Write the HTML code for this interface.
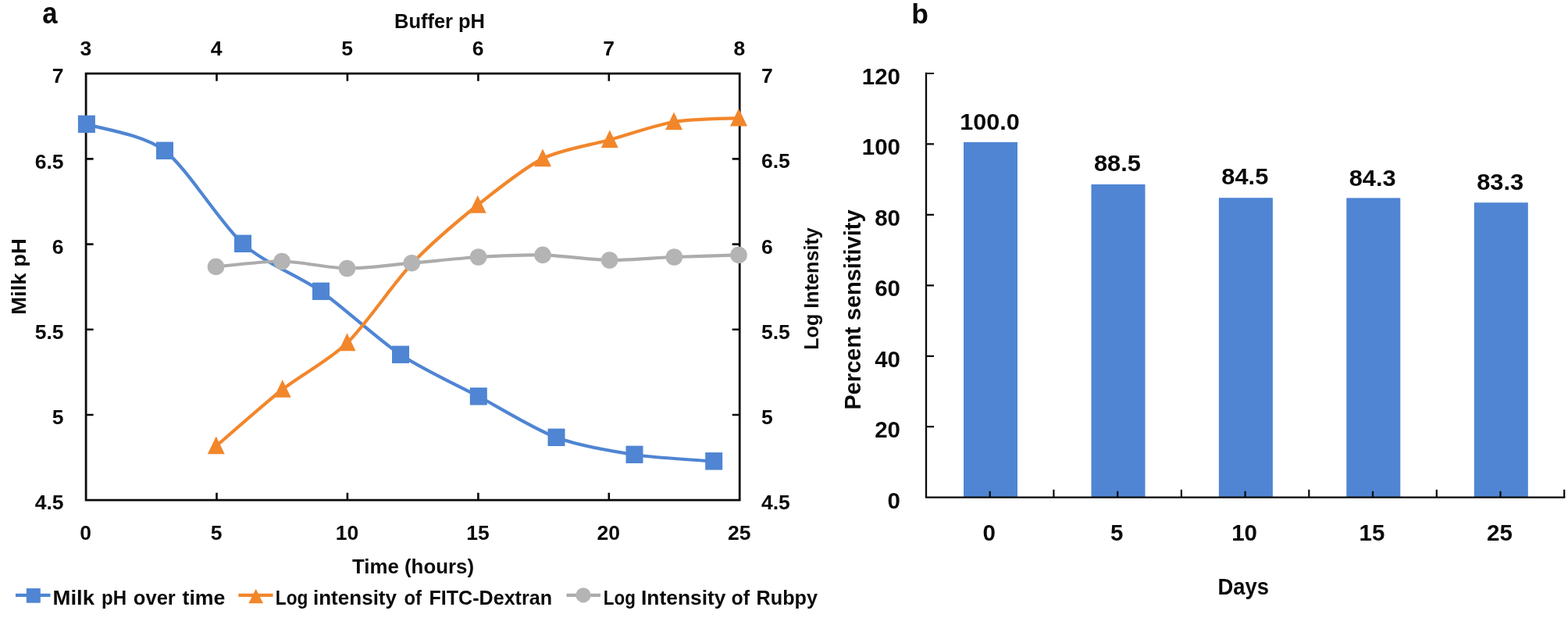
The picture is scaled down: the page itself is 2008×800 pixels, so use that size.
<!DOCTYPE html>
<html lang="en">
<head>
<meta charset="utf-8">
<title>Figure: milk pH, log intensity and percent sensitivity</title>
<style>
html,body{margin:0;padding:0;background:#fff;}
body{width:2008px;height:800px;overflow:hidden;}
svg{display:block;}
text{font-family:"Liberation Sans",Arial,sans-serif;}
</style>
</head>
<body>
<svg xmlns="http://www.w3.org/2000/svg" width="2008" height="800" viewBox="0 0 2008 800">
<g fill="none" stroke="#0a0a0a" stroke-width="2.8" stroke-linecap="square">
<path d="M110.1 94.2 H947.2 V640.2 H110.1 Z"/>
<path d="M277.5 94.2 v9.5 M277.5 640.2 v-9.5 M444.9 94.2 v9.5 M444.9 640.2 v-9.5 M612.4 94.2 v9.5 M612.4 640.2 v-9.5 M779.8 94.2 v9.5 M779.8 640.2 v-9.5 M110.1 203.4 h9.5 M947.2 203.4 h-9.5 M110.1 312.6 h9.5 M947.2 312.6 h-9.5 M110.1 421.8 h9.5 M947.2 421.8 h-9.5 M110.1 531.0 h9.5 M947.2 531.0 h-9.5" stroke-width="2.6" stroke-linecap="butt"/>
</g>
<path d="M110.9 159.0 C124.9 163.8 183.0 171.6 211.0 193.0 C239.0 214.4 283.0 286.8 311.0 312.0 C339.0 337.2 382.7 353.1 411.0 373.0 C439.3 392.9 484.7 435.2 513.0 454.0 C541.3 472.8 584.9 492.7 612.8 507.5 C640.7 522.3 684.5 549.6 712.5 560.0 C740.5 570.4 784.3 577.7 812.5 582.0 C840.7 586.3 900.0 589.3 914.2 590.5" fill="none" stroke="#4F85D3" stroke-width="4.2" stroke-linejoin="round"/>
<rect x="99.9" y="147.6" width="22" height="22.4" fill="#4F85D3"/>
<rect x="200.0" y="181.6" width="22" height="22.4" fill="#4F85D3"/>
<rect x="300.0" y="300.6" width="22" height="22.4" fill="#4F85D3"/>
<rect x="400.0" y="361.6" width="22" height="22.4" fill="#4F85D3"/>
<rect x="502.0" y="442.6" width="22" height="22.4" fill="#4F85D3"/>
<rect x="601.8" y="496.1" width="22" height="22.4" fill="#4F85D3"/>
<rect x="701.5" y="548.6" width="22" height="22.4" fill="#4F85D3"/>
<rect x="801.5" y="570.6" width="22" height="22.4" fill="#4F85D3"/>
<rect x="903.2" y="579.1" width="22" height="22.4" fill="#4F85D3"/>
<path d="M276.8 571.0 C288.7 560.9 338.2 517.0 361.7 498.5 C385.2 480.0 421.3 461.5 444.5 439.0 C467.7 416.5 504.1 362.2 527.5 337.5 C550.9 312.8 588.2 281.3 611.7 262.5 C635.2 243.7 671.3 214.7 695.0 203.0 C718.7 191.3 757.3 185.6 780.8 179.0 C804.3 172.4 839.9 159.9 863.0 156.0 C886.1 152.1 934.4 151.9 946.0 151.2" fill="none" stroke="#F2862B" stroke-width="4.2" stroke-linejoin="round"/>
<path d="M276.8 558.6 l11 22.6 h-22 z" fill="#F2862B"/>
<path d="M361.7 486.1 l11 22.6 h-22 z" fill="#F2862B"/>
<path d="M444.5 426.6 l11 22.6 h-22 z" fill="#F2862B"/>
<path d="M611.7 250.1 l11 22.6 h-22 z" fill="#F2862B"/>
<path d="M695.0 190.6 l11 22.6 h-22 z" fill="#F2862B"/>
<path d="M780.8 166.6 l11 22.6 h-22 z" fill="#F2862B"/>
<path d="M863.0 143.6 l11 22.6 h-22 z" fill="#F2862B"/>
<path d="M946.0 138.8 l11 22.6 h-22 z" fill="#F2862B"/>
<path d="M276.5 341.4 C288.3 340.4 337.5 334.2 361.0 334.5 C384.5 334.8 421.2 343.2 444.5 343.5 C467.8 343.8 503.8 338.7 527.3 336.7 C550.8 334.7 589.1 330.4 612.6 329.0 C636.1 327.6 671.5 325.8 695.0 326.4 C718.5 327.0 757.0 332.6 780.6 333.0 C804.2 333.4 840.2 329.9 863.4 329.0 C886.6 328.1 934.4 326.8 946.0 326.4" fill="none" stroke="#ACACAC" stroke-width="4.2" stroke-linejoin="round"/>
<circle cx="276.5" cy="341.4" r="10.8" fill="#B4B4B4"/>
<circle cx="361.0" cy="334.5" r="10.8" fill="#B4B4B4"/>
<circle cx="444.5" cy="343.5" r="10.8" fill="#B4B4B4"/>
<circle cx="527.3" cy="336.7" r="10.8" fill="#B4B4B4"/>
<circle cx="612.6" cy="329.0" r="10.8" fill="#B4B4B4"/>
<circle cx="695.0" cy="326.4" r="10.8" fill="#B4B4B4"/>
<circle cx="780.6" cy="333.0" r="10.8" fill="#B4B4B4"/>
<circle cx="863.4" cy="329.0" r="10.8" fill="#B4B4B4"/>
<circle cx="946.0" cy="326.4" r="10.8" fill="#B4B4B4"/>
<g font-family='"Liberation Sans", Arial, sans-serif' fill="#0a0a0a">
<text x="54.3" y="29.7" font-size="38.5" text-anchor="start" font-weight="bold" textLength="19.3" lengthAdjust="spacingAndGlyphs">a</text>
<text x="1167.3" y="29.5" font-size="35.5" text-anchor="start" font-weight="bold">b</text>
<text x="563.0" y="36.2" font-size="26.5" text-anchor="middle" font-weight="bold" textLength="116.0" lengthAdjust="spacingAndGlyphs">Buffer pH</text>
<text x="109.8" y="70.6" font-size="26.5" text-anchor="middle" font-weight="bold">3</text>
<text x="277.2" y="70.6" font-size="26.5" text-anchor="middle" font-weight="bold">4</text>
<text x="444.6" y="70.6" font-size="26.5" text-anchor="middle" font-weight="bold">5</text>
<text x="612.1" y="70.6" font-size="26.5" text-anchor="middle" font-weight="bold">6</text>
<text x="779.5" y="70.6" font-size="26.5" text-anchor="middle" font-weight="bold">7</text>
<text x="946.9" y="70.6" font-size="26.5" text-anchor="middle" font-weight="bold">8</text>
<text x="109.6" y="690.8" font-size="26.5" text-anchor="middle" font-weight="bold">0</text>
<text x="277.0" y="690.8" font-size="26.5" text-anchor="middle" font-weight="bold">5</text>
<text x="444.4" y="690.8" font-size="26.5" text-anchor="middle" font-weight="bold">10</text>
<text x="611.9" y="690.8" font-size="26.5" text-anchor="middle" font-weight="bold">15</text>
<text x="779.3" y="690.8" font-size="26.5" text-anchor="middle" font-weight="bold">20</text>
<text x="946.7" y="690.8" font-size="26.5" text-anchor="middle" font-weight="bold">25</text>
<text x="81.5" y="106.3" font-size="26.5" text-anchor="end" font-weight="bold">7</text>
<text x="975.0" y="106.2" font-size="26.5" text-anchor="start" font-weight="bold">7</text>
<text x="81.5" y="215.5" font-size="26.5" text-anchor="end" font-weight="bold">6.5</text>
<text x="975.0" y="215.4" font-size="26.5" text-anchor="start" font-weight="bold">6.5</text>
<text x="81.5" y="324.7" font-size="26.5" text-anchor="end" font-weight="bold">6</text>
<text x="975.0" y="324.6" font-size="26.5" text-anchor="start" font-weight="bold">6</text>
<text x="81.5" y="433.9" font-size="26.5" text-anchor="end" font-weight="bold">5.5</text>
<text x="975.0" y="433.8" font-size="26.5" text-anchor="start" font-weight="bold">5.5</text>
<text x="81.5" y="543.1" font-size="26.5" text-anchor="end" font-weight="bold">5</text>
<text x="975.0" y="543.0" font-size="26.5" text-anchor="start" font-weight="bold">5</text>
<text x="81.5" y="652.3" font-size="26.5" text-anchor="end" font-weight="bold">4.5</text>
<text x="975.0" y="652.2" font-size="26.5" text-anchor="start" font-weight="bold">4.5</text>
<text x="529.0" y="733.5" font-size="26.5" text-anchor="middle" font-weight="bold" textLength="156.0" lengthAdjust="spacingAndGlyphs">Time (hours)</text>
<text x="32.6" y="354.0" font-size="26.5" text-anchor="middle" font-weight="bold" textLength="97.5" lengthAdjust="spacingAndGlyphs" transform="rotate(-90 32.6 354.0)">Milk pH</text>
<text x="1048.0" y="369.5" font-size="26.5" text-anchor="middle" font-weight="bold" textLength="156.5" lengthAdjust="spacingAndGlyphs" transform="rotate(-90 1048.0 369.5)">Log Intensity</text>
<text y="773.6" font-size="26.5" font-weight="bold" text-anchor="start"><tspan x="67.5" textLength="53.5" lengthAdjust="spacingAndGlyphs">Milk</tspan> <tspan x="130.0" textLength="32.0" lengthAdjust="spacingAndGlyphs">pH</tspan> <tspan x="170.8" textLength="54.0" lengthAdjust="spacingAndGlyphs">over</tspan> <tspan x="233.5" textLength="55.0" lengthAdjust="spacingAndGlyphs">time</tspan></text>
<text y="773.6" font-size="26.5" font-weight="bold" text-anchor="start"><tspan x="352.8" textLength="41.5" lengthAdjust="spacingAndGlyphs">Log</tspan> <tspan x="401.0" textLength="107.0" lengthAdjust="spacingAndGlyphs">intensity</tspan> <tspan x="517.5" textLength="22.5" lengthAdjust="spacingAndGlyphs">of</tspan> <tspan x="549.5" textLength="157.5" lengthAdjust="spacingAndGlyphs">FITC-Dextran</tspan></text>
<text y="773.6" font-size="26.5" font-weight="bold" text-anchor="start"><tspan x="772.8" textLength="41.0" lengthAdjust="spacingAndGlyphs">Log</tspan> <tspan x="821.0" textLength="108.5" lengthAdjust="spacingAndGlyphs">Intensity</tspan> <tspan x="936.5" textLength="23.5" lengthAdjust="spacingAndGlyphs">of</tspan> <tspan x="968.5" textLength="78.5" lengthAdjust="spacingAndGlyphs">Rubpy</tspan></text>
</g>
<path d="M20 761.8 H64.5" stroke="#4F85D3" stroke-width="4.2"/>
<rect x="33.8" y="753.1" width="18" height="18.6" fill="#4F85D3"/>
<path d="M305.4 761.8 H349.5" stroke="#F2862B" stroke-width="4.2"/>
<path d="M327.7 753.8 l9.3 18.5 h-18.6 z" fill="#F2862B"/>
<path d="M725.5 761.8 H769" stroke="#ACACAC" stroke-width="4.2"/>
<circle cx="747" cy="761.8" r="9.6" fill="#B4B4B4"/>
<rect x="1234.0" y="182.0" width="69" height="454.7" fill="#4F85D3"/>
<rect x="1397.5" y="236.0" width="69" height="400.7" fill="#4F85D3"/>
<rect x="1560.9" y="253.2" width="69" height="383.5" fill="#4F85D3"/>
<rect x="1724.3" y="253.4" width="69" height="383.3" fill="#4F85D3"/>
<rect x="1887.8" y="259.3" width="69" height="377.4" fill="#4F85D3"/>
<g fill="none" stroke="#0a0a0a" stroke-width="2.3" stroke-linecap="square">
<path d="M1186.0 94.0 V636.7 H2003.2"/>
<path d="M1186.0 94.0 h10 M1186.0 184.4 h10 M1186.0 274.9 h10 M1186.0 365.4 h10 M1186.0 455.8 h10 M1186.0 546.2 h10 M1267.7 636.7 v-8 M1349.4 636.7 v-10 M1431.2 636.7 v-8 M1512.9 636.7 v-10 M1594.6 636.7 v-8 M1676.3 636.7 v-10 M1758.0 636.7 v-8 M1839.8 636.7 v-10 M1921.5 636.7 v-8 M2003.2 636.7 v-10" stroke-width="2.2" stroke-linecap="butt"/>
</g>
<g font-family='"Liberation Sans", Arial, sans-serif' fill="#0a0a0a">
<text x="1153.0" y="108.0" font-size="29.5" text-anchor="end" font-weight="bold">120</text>
<text x="1153.0" y="198.4" font-size="29.5" text-anchor="end" font-weight="bold">100</text>
<text x="1153.0" y="288.9" font-size="29.5" text-anchor="end" font-weight="bold">80</text>
<text x="1153.0" y="379.4" font-size="29.5" text-anchor="end" font-weight="bold">60</text>
<text x="1153.0" y="469.8" font-size="29.5" text-anchor="end" font-weight="bold">40</text>
<text x="1153.0" y="560.2" font-size="29.5" text-anchor="end" font-weight="bold">20</text>
<text x="1153.0" y="650.7" font-size="29.5" text-anchor="end" font-weight="bold">0</text>
<text x="1267.4" y="166.3" font-size="30" text-anchor="middle" font-weight="bold" textLength="76.5" lengthAdjust="spacingAndGlyphs">100.0</text>
<text x="1266.7" y="692.0" font-size="29.5" text-anchor="middle" font-weight="bold">0</text>
<text x="1430.9" y="218.8" font-size="30" text-anchor="middle" font-weight="bold" textLength="60.0" lengthAdjust="spacingAndGlyphs">88.5</text>
<text x="1430.2" y="692.0" font-size="29.5" text-anchor="middle" font-weight="bold">5</text>
<text x="1594.3" y="236.2" font-size="30" text-anchor="middle" font-weight="bold" textLength="60.0" lengthAdjust="spacingAndGlyphs">84.5</text>
<text x="1593.6" y="692.0" font-size="29.5" text-anchor="middle" font-weight="bold">10</text>
<text x="1757.7" y="238.2" font-size="30" text-anchor="middle" font-weight="bold" textLength="60.0" lengthAdjust="spacingAndGlyphs">84.3</text>
<text x="1757.0" y="692.0" font-size="29.5" text-anchor="middle" font-weight="bold">15</text>
<text x="1921.2" y="243.4" font-size="30" text-anchor="middle" font-weight="bold" textLength="60.0" lengthAdjust="spacingAndGlyphs">83.3</text>
<text x="1920.5" y="692.0" font-size="29.5" text-anchor="middle" font-weight="bold">25</text>
<text x="1592.3" y="760.5" font-size="29.5" text-anchor="middle" font-weight="bold" textLength="65.5" lengthAdjust="spacingAndGlyphs">Days</text>
<text x="1102.0" y="396.5" font-size="29.5" text-anchor="middle" font-weight="bold" textLength="256.0" lengthAdjust="spacingAndGlyphs" transform="rotate(-90 1102.0 396.5)">Percent sensitivity</text>
</g>
</svg>
</body>
</html>
